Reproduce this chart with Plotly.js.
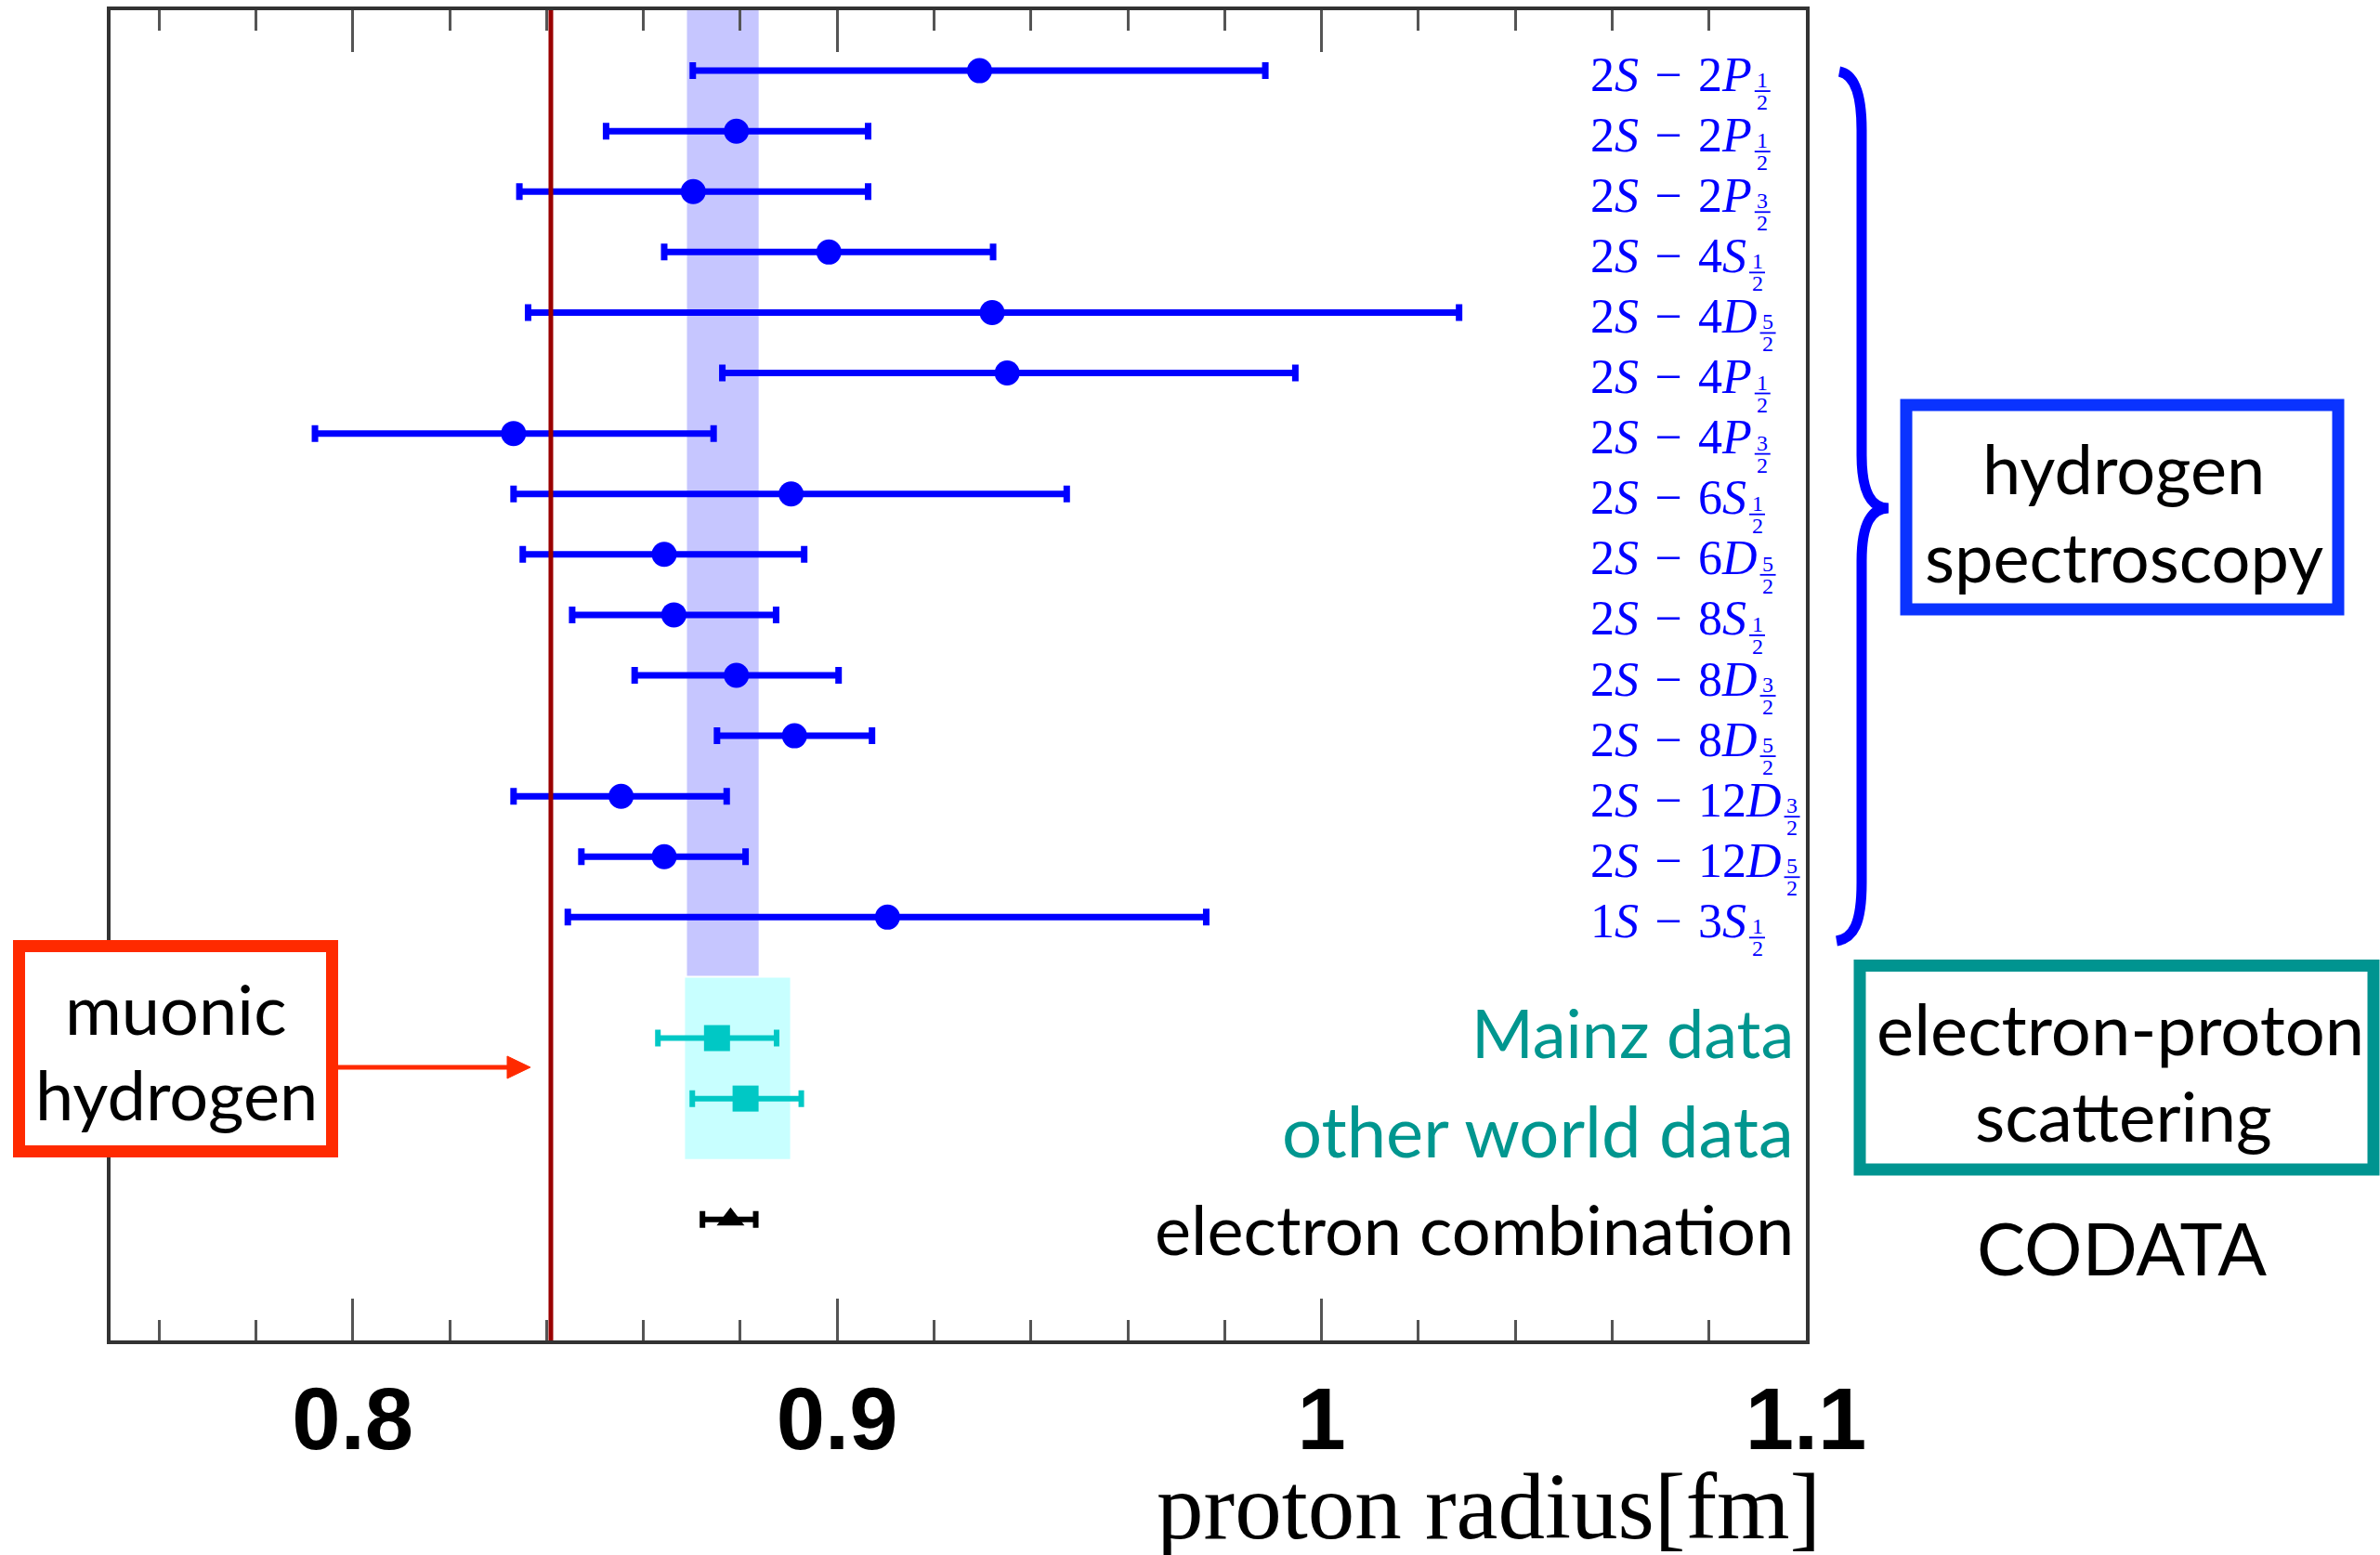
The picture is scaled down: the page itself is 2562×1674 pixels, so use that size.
<!DOCTYPE html>
<html><head><meta charset="utf-8">
<script src="https://cdn.plot.ly/plotly-3.0.1.min.js"></script>
<style>html,body{margin:0;padding:0;background:#fff}</style>
</head><body><div id="chart" style="width:2562px;height:1674px"></div>
<script>
// ---------------- data ----------------
const lowerN = ["2","2","2","2","2","2","2","2","2","2","2","2","2","2","1"];
const lowerL = ["S","S","S","S","S","S","S","S","S","S","S","S","S","S","S"];
const upperN = ["2","2","2","4","4","4","4","6","6","8","8","8","12","12","3"];
const upperL = ["P","P","P","S","D","P","P","S","D","S","D","D","D","D","S"];
const jNum   = ["1","1","3","1","5","1","3","1","5","1","3","5","3","5","1"];
const jDen   = ["2","2","2","2","2","2","2","2","2","2","2","2","2","2","2"];
const hydrogenR  = [0.9294,0.8792,0.8703,0.8983,0.9320,0.9351,0.8332,0.8905,0.8643,0.8663,0.8792,0.8912,0.8554,0.8643,0.9104];
const hydrogenLo = [0.8702,0.8523,0.8344,0.8643,0.8362,0.8763,0.7922,0.8332,0.8351,0.8453,0.8582,0.8752,0.8332,0.8472,0.8444];
const hydrogenHi = [0.9884,0.9064,0.9064,0.9322,1.0284,0.9946,0.8745,0.9474,0.8932,0.8874,0.9003,0.9072,0.8772,0.8811,0.9762];
const scatterNames = ["Mainz data","other world data"];
const scatterR  = [0.8752,0.8811];
const scatterLo = [0.8630,0.8701];
const scatterHi = [0.8875,0.8926];
const electronName = "electron combination";
const electronR  = [0.8780];
const electronLo = [0.8722];
const electronHi = [0.8832];
const muonicR = 0.8409;
const hydrogenBand   = [0.8690,0.8838];
const scatteringBand = [0.8686,0.8903];
const xTickVals = [0.8,0.9,1,1.1];
const xTickText = ["0.8","0.9","1","1.1"];

// ---------------- geometry helpers ----------------
const W=2562, H=1674, L=119, R=1944, T=11, B=1443;
const px2x = px => (px-L)/(R-L);
const px2y = py => (B-py)/(B-T);
const Y_TOP=-1, Y_BOT=21;
const rowPx = r => T + (r-Y_TOP)*(B-T)/(Y_BOT-Y_TOP);
const MAINZ_ROW=16, OTHER_ROW=17, ELEC_ROW=19;

const BLUE='#0000ff', CYAN='#00c8c5', TEAL='#00968f', RED='#ff2a00';
const SERIF='Liberation Serif', SANS='Lato';
const LABEL_SIZE=52, FRAC_SIZE=24, LABEL_LEFT=1710;

const ctx=document.createElement('canvas').getContext('2d');
function tw(s,italic,size){ctx.font=(italic?'italic ':'')+size+'px "'+SERIF+'"';return ctx.measureText(s).width;}

const rows = hydrogenR.map((_,i)=>i);
const annotations=[], shapes=[];

// hydrogen labels with stacked fractions
rows.forEach(i=>{
  const sep='\u2004\u2212\u2004';
  const txt=lowerN[i]+'<i>'+lowerL[i]+'</i>'+sep+upperN[i]+'<i>'+upperL[i]+'</i>';
  const w=tw(lowerN[i],false,LABEL_SIZE)+tw(lowerL[i],true,LABEL_SIZE)+tw(sep,false,LABEL_SIZE)+tw(upperN[i],false,LABEL_SIZE)+tw(upperL[i],true,LABEL_SIZE);
  const yc=rowPx(i);
  annotations.push({xref:'paper',yref:'paper',x:px2x(LABEL_LEFT),y:px2y(yc+4),xanchor:'left',yanchor:'middle',
    text:txt,showarrow:false,font:{family:SERIF,size:LABEL_SIZE,color:BLUE}});
  const fx0=LABEL_LEFT+2+w+3, fw=17;
  annotations.push({xref:'paper',yref:'paper',x:px2x(fx0+fw/2),y:px2y(yc+10),xanchor:'center',yanchor:'middle',
    text:jNum[i],showarrow:false,font:{family:SERIF,size:FRAC_SIZE,color:BLUE}});
  annotations.push({xref:'paper',yref:'paper',x:px2x(fx0+fw/2),y:px2y(yc+34),xanchor:'center',yanchor:'middle',
    text:jDen[i],showarrow:false,font:{family:SERIF,size:FRAC_SIZE,color:BLUE}});
  shapes.push({type:'line',xref:'paper',yref:'paper',x0:px2x(fx0),x1:px2x(fx0+fw),y0:px2y(yc+22),y1:px2y(yc+22),
    line:{color:BLUE,width:1.8},layer:'above'});
});

// scattering labels
const sideLabels=[[scatterNames[0],1111,TEAL,72],[scatterNames[1],1216,TEAL,76],[electronName,1322,'#000',74]];
sideLabels.forEach(s=>annotations.push({xref:'paper',yref:'paper',x:px2x(1933),y:px2y(s[1]),xanchor:'right',yanchor:'middle',
  text:s[0],showarrow:false,font:{family:SANS,size:s[3],color:s[2]}}));

// boxed texts
const boxTexts=[["muonic",189,1085,74],["hydrogen",190,1177,74],["hydrogen",2286,503,74],["spectroscopy",2286,598,74],
  ["electron-proton",2282,1106,76],["scattering",2286,1200,74.5],["CODATA",2284,1343,78]];
boxTexts.forEach(s=>annotations.push({xref:'paper',yref:'paper',x:px2x(s[1]),y:px2y(s[2]),xanchor:'center',yanchor:'middle',
  text:s[0],showarrow:false,font:{family:SANS,size:s[3],color:'#000'}}));

// axis title
annotations.push({xref:'paper',yref:'paper',x:px2x(1962),y:px2y(1622),xanchor:'right',yanchor:'middle',
  text:'proton radius[fm]',showarrow:false,font:{family:SERIF,size:101,color:'#000'}});

// bands
shapes.push({type:'rect',xref:'x',yref:'y',x0:hydrogenBand[0],x1:hydrogenBand[1],y0:Y_TOP,y1:14.97,
  fillcolor:'#c6c6ff',line:{width:0},layer:'below'});
shapes.push({type:'rect',xref:'x',yref:'y',x0:scatteringBand[0],x1:scatteringBand[1],y0:15.0,y1:18.0,
  fillcolor:'#c8ffff',line:{width:0},layer:'below'});
// muonic hydrogen line
shapes.push({type:'line',xref:'x',yref:'paper',x0:muonicR,x1:muonicR,y0:0,y1:1,line:{color:'#9a0000',width:5},layer:'above'});

// boxes
function rectPx(x0,y0,x1,y1,color,fill){
  shapes.push({type:'rect',xref:'paper',yref:'paper',x0:px2x(x0),x1:px2x(x1),y0:px2y(y1),y1:px2y(y0),
    line:{color:color,width:13},fillcolor:fill,layer:'above'});
}
rectPx(20.5,1018.5,357.5,1239.5,RED,'#ffffff');
rectPx(2052,436,2517,656,'#0a33ff','rgba(0,0,0,0)');
rectPx(2002,1039.5,2555,1259,'#009490','rgba(0,0,0,0)');

// path helper (pixel -> paper)
function pathPx(cmds){
  return cmds.map(c=>{let s=c[0];for(let k=1;k<c.length;k+=2){s+=(k>1?' ':'')+px2x(c[k]).toFixed(5)+','+px2y(c[k+1]).toFixed(5);}return s;}).join(' ');
}
// arrow
shapes.push({type:'line',xref:'paper',yref:'paper',x0:px2x(364),x1:px2x(552),y0:px2y(1149),y1:px2y(1149),line:{color:RED,width:5},layer:'above'});
shapes.push({type:'path',xref:'paper',yref:'paper',path:pathPx([["M",571,1149],["L",546,1137],["L",546,1161],["Z"]]),
  fillcolor:RED,line:{color:RED,width:1},layer:'above'});
// brace
shapes.push({type:'path',xref:'paper',yref:'paper',layer:'above',line:{color:BLUE,width:11},fillcolor:'rgba(0,0,0,0)',
  path:pathPx([["M",1980,77],["C",1996,80,2004,100,2004,140],["L",2004,490],["C",2004,530,2014,547,2033,547],
    ["C",2014,547,2004,564,2004,604],["L",2004,950],["C",2004,995,1995,1010,1977,1013]])});

// ---------------- traces ----------------
function errTrace(x,lo,hi,y,name,color,symbol,size,thick,capw){
  return {type:'scatter',mode:'markers',name:name,x:x,y:y,
    marker:{color:color,size:size,symbol:symbol,line:{width:0}},
    error_x:{type:'data',symmetric:false,array:x.map((v,k)=>hi[k]-v),arrayminus:x.map((v,k)=>v-lo[k]),
      color:color,thickness:thick,width:capw},
    hoverinfo:'x',showlegend:false};
}
const data=[
  errTrace(hydrogenR,hydrogenLo,hydrogenHi,rows,'hydrogen spectroscopy',BLUE,'circle',27,7,9),
  errTrace([scatterR[0]],[scatterLo[0]],[scatterHi[0]],[MAINZ_ROW],scatterNames[0],CYAN,'square',28,6,9),
  errTrace([scatterR[1]],[scatterLo[1]],[scatterHi[1]],[OTHER_ROW],scatterNames[1],CYAN,'square',28,6,9),
  errTrace(electronR,electronLo,electronHi,[ELEC_ROW],electronName,'#000','triangle-up',26,6,9)
];

const layout={
  width:W,height:H,margin:{l:L,r:W-R,t:T,b:H-B,pad:0},
  paper_bgcolor:'#fff',plot_bgcolor:'#fff',showlegend:false,
  xaxis:{range:[0.75,1.1],showline:true,linewidth:4,linecolor:'#333',mirror:'allticks',
    ticks:'inside',ticklen:45,tickwidth:3,tickcolor:'#555',tickvals:xTickVals,ticktext:xTickText,
    tickfont:{family:'Liberation Sans',size:94,color:'#000',weight:'bold'},ticklabelstandoff:0,
    minor:{tick0:0,dtick:0.02,ticks:'inside',ticklen:22,tickwidth:3,tickcolor:'#555',showgrid:false},
    showgrid:false,zeroline:false},
  yaxis:{range:[Y_BOT,Y_TOP],showline:true,linewidth:4,linecolor:'#333',mirror:true,
    showticklabels:false,ticks:'',showgrid:false,zeroline:false},
  shapes:shapes,annotations:annotations
};
Plotly.newPlot('chart',data,layout,{staticPlot:true});
</script></body></html>
